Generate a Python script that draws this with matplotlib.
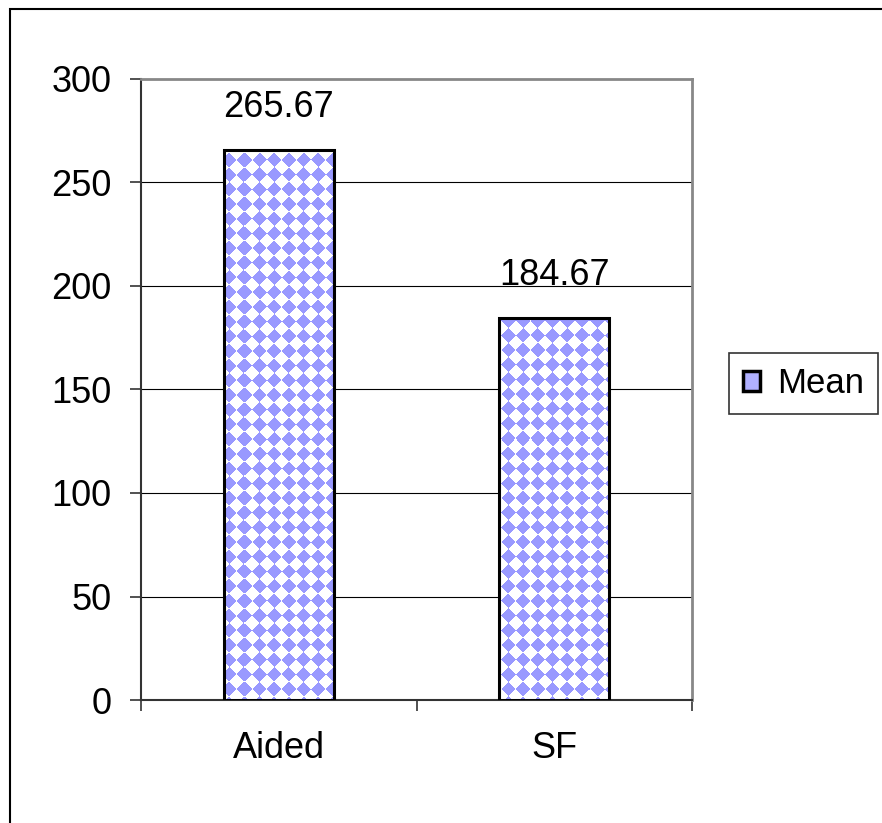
import numpy as np
import matplotlib
matplotlib.use("Agg")
import matplotlib.pyplot as plt
from matplotlib.patches import Patch, Rectangle

# data
categories = ["Aided", "SF"]
means = [265.67, 184.67]
value_labels = ["265.67", "184.67"]
y_ticks = [0, 50, 100, 150, 200, 250, 300]

plt.rcParams['font.family'] = ['Liberation Sans', 'DejaVu Sans']
FS = 26

W, H = 882, 823
fig = plt.figure(figsize=(W / 100, H / 100), dpi=100)

# outer chart-area border (left and top visible only)
fig.patches.append(Rectangle((9.5 / W, -0.1), 1.2, 1.1 - 9.5 / H, transform=fig.transFigure,
                             facecolor='none', edgecolor='black', linewidth=1.5))

ax_l, ax_r, ax_t, ax_b = 141, 692, 79, 700
ax = fig.add_axes([ax_l / W, 1 - ax_b / H, (ax_r - ax_l) / W, (ax_b - ax_t) / H])

x = np.arange(len(categories))
bars = ax.bar(x, means, width=0.4, facecolor='none', edgecolor='black', linewidth=2.2, zorder=4)

# diamond check fill, clipped to each bar
pw, ph = ax_r - ax_l, ax_b - ax_t
yy, xx = np.mgrid[0:ph, 0:pw] + 0.5
s = 14.7
chk = (np.floor((xx + yy) / s) + np.floor((xx - yy) / s)) % 2
img = np.ones((ph, pw, 3))
blue = np.array([0x99, 0x99, 0xFF]) / 255.0
img[chk == 1] = blue
for b in bars:
    im = ax.imshow(img, extent=[0, 1, 0, 1], transform=ax.transAxes, aspect='auto',
                   interpolation='nearest', zorder=3)
    im.set_clip_path(b)

for xi, v, lab in zip(x, means, value_labels):
    ax.annotate(lab, (xi, v), xytext=(0, 18), textcoords='offset points',
                ha='center', va='bottom', fontsize=FS)

ax.set_xlim(-0.5, len(categories) - 0.5)
ax.set_ylim(0, 300)
ax.set_yticks(y_ticks)
ax.set_xticks(x)
ax.set_xticklabels(categories)
ax.set_xticks(np.arange(len(categories) + 1) - 0.5, minor=True)
ax.tick_params(axis='x', which='major', length=0, pad=22, labelsize=FS)
ax.tick_params(axis='x', which='minor', length=8, width=1.2, color='#333333', direction='out')
ax.tick_params(axis='y', length=8, width=1.2, color='#333333', pad=13, labelsize=FS)

for g in y_ticks[1:-1]:
    ax.axhline(g, color='black', linewidth=0.8, zorder=1)

for side in ['top', 'right']:
    ax.spines[side].set_color('#888888')
    ax.spines[side].set_linewidth(2)
for side in ['left', 'bottom']:
    ax.spines[side].set_color('#333333')
    ax.spines[side].set_linewidth(1.5)

handle = Patch(facecolor='#b0b0ff', edgecolor='black', linewidth=2.5)
leg = fig.legend([handle], ['Mean'], loc='center', bbox_to_anchor=(803.5 / W, 1 - 383.5 / H),
                 fontsize=25, fancybox=False, framealpha=1, edgecolor='#333333',
                 handlelength=0.5, handleheight=0.5, handletextpad=0.5, borderpad=0.4,
                 borderaxespad=0)
leg.get_frame().set_linewidth(1.2)

fig.savefig("out.png", dpi=100, facecolor='white')
